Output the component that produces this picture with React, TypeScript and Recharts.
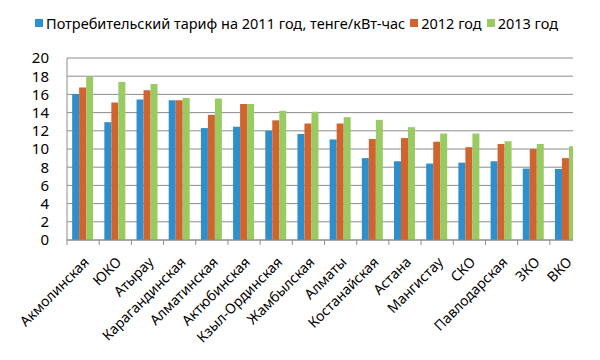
import React from "react"
import {
  BarChart,
  Bar,
  XAxis,
  YAxis,
  CartesianGrid,
} from "recharts"

const regions = [
  "Акмолинская",
  "ЮКО",
  "Атырау",
  "Карагандинская",
  "Алматинская",
  "Актюбинская",
  "Кзыл-Ординская",
  "Жамбылская",
  "Алматы",
  "Костанайская",
  "Астана",
  "Мангистау",
  "СКО",
  "Павлодарская",
  "ЗКО",
  "ВКО",
]

const tariff2011 = [16.05, 12.95, 15.45, 15.35, 12.3, 12.45, 12.0, 11.65, 11.05, 9.0, 8.65, 8.4, 8.5, 8.65, 7.85, 7.8]
const tariff2012 = [16.75, 15.1, 16.45, 15.35, 13.75, 14.95, 13.15, 12.8, 12.8, 11.1, 11.2, 10.8, 10.2, 10.55, 10.0, 9.0]
const tariff2013 = [17.95, 17.35, 17.15, 15.6, 15.55, 14.95, 14.2, 14.1, 13.5, 13.2, 12.4, 11.7, 11.7, 10.85, 10.55, 10.3]

const yTicks = [0, 2, 4, 6, 8, 10, 12, 14, 16, 18, 20]

const series = [
  { key: "y2011", name: "Потребительский тариф на 2011 год, тенге/кВт-час", color: "#2F8ECC" },
  { key: "y2012", name: "2012 год", color: "#D0632E" },
  { key: "y2013", name: "2013 год", color: "#9ACA62" },
]

const data = regions.map((name, i) => ({
  name,
  y2011: tariff2011[i],
  y2012: tariff2012[i],
  y2013: tariff2013[i],
}))

const FONT = "'Noto Sans', sans-serif"
const AXIS = "#8c8c8c"
const CHART_W = 600
const MARGIN_R = 18
const Y_W = 67

// category label rotated -45 plus the small tick mark on the left edge of the band
function RegionTick(props: any) {
  const { x, y, payload } = props
  const band = (CHART_W - MARGIN_R - Y_W) / regions.length
  const left = x - band / 2
  const ax = x + 7
  const ay = y + 23
  return (
    <g>
      <line x1={left} x2={left} y1={y} y2={y + 5} stroke={AXIS} />
      <text
        x={ax}
        y={ay}
        transform={`rotate(-45, ${ax}, ${ay})`}
        textAnchor="end"
        fontSize={14}
        fontFamily={FONT}
        fill="#000"
      >
        {payload.value}
      </text>
    </g>
  )
}

export default function App() {
  return (
    <div style={{ margin: -8, width: 600, height: 360, background: "#fff", position: "relative" }}>
      <div
        style={{
          position: "absolute",
          top: 13,
          left: 35,
          display: "flex",
          alignItems: "center",
          fontFamily: FONT,
          fontSize: 14.5,
          color: "#000",
          whiteSpace: "nowrap",
        }}
      >
        {series.map((s) => (
          <span key={s.key} style={{ display: "flex", alignItems: "center", marginRight: 5 }}>
            <span style={{ width: 8, height: 8, background: s.color, marginRight: 3 }} />
            {s.name}
          </span>
        ))}
      </div>
      <BarChart
        width={CHART_W}
        height={360}
        data={data}
        margin={{ top: 58, right: MARGIN_R, bottom: 0, left: 0 }}
        barCategoryGap="16%"
        barGap={0}
      >
        <CartesianGrid vertical={false} stroke={AXIS} />
        <XAxis
          dataKey="name"
          interval={0}
          tick={<RegionTick />}
          axisLine={{ stroke: AXIS }}
          tickLine={false}
          tickSize={0}
          tickMargin={0}
          height={120}
        />
        <YAxis
          domain={[0, 20]}
          ticks={yTicks}
          interval={0}
          width={Y_W}
          axisLine={{ stroke: AXIS }}
          tickLine={false}
          tickMargin={12}
          tick={{ fontSize: 15, fontFamily: FONT, fill: "#000" }}
        />
        {series.map((s) => (
          <Bar key={s.key} dataKey={s.key} name={s.name} fill={s.color} isAnimationActive={false} />
        ))}
      </BarChart>
      {/* the source picture is cut off at the right edge of the plot */}
      <div style={{ position: "absolute", left: 573, top: 45, width: 27, height: 200, background: "#fff" }} />
    </div>
  )
}
